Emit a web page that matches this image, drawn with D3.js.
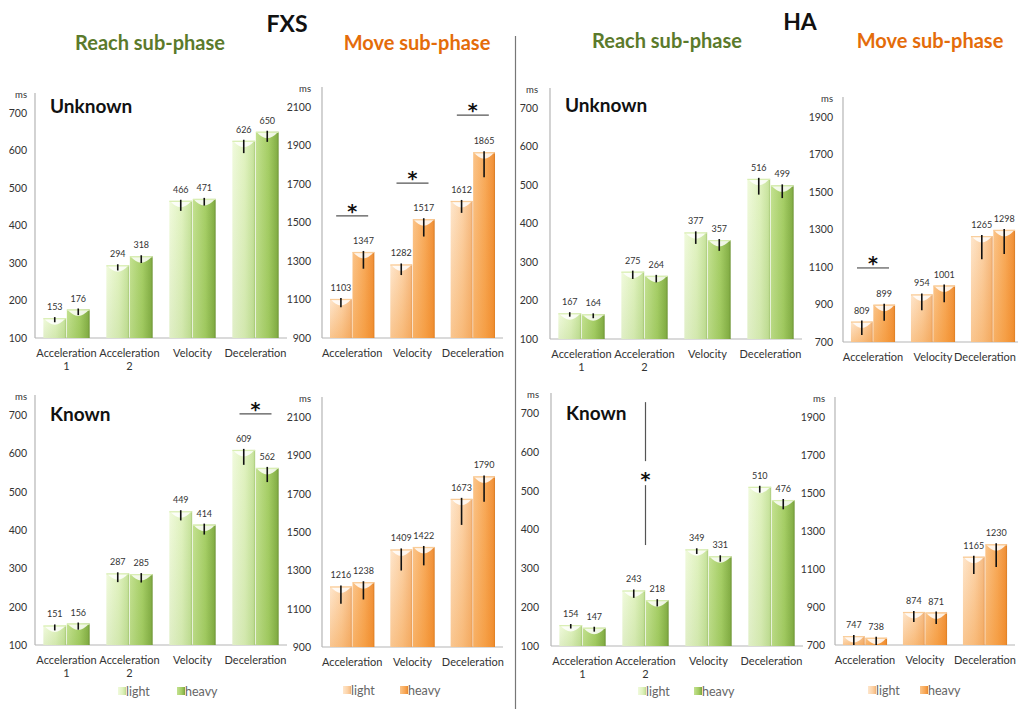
<!DOCTYPE html>
<html><head><meta charset="utf-8">
<script src="https://cdn.jsdelivr.net/npm/d3@7"></script>
<style>
html,body{margin:0;padding:0;background:#fff;}
svg{display:block;font-family:Lato,"Open Sans",sans-serif;}
</style></head>
<body>
<svg id="chart" width="1018" height="709"></svg>
<script>
// ---------------- DATA ----------------
const reachCategories = [["Acceleration","1"],["Acceleration","2"],["Velocity"],["Deceleration"]];
const moveCategories = [["Acceleration"],["Velocity"],["Deceleration"]];
const seriesNames = ["light","heavy"];

const reachTicks = [100,200,300,400,500,600,700];
const moveTicksFXS = [900,1100,1300,1500,1700,1900,2100];
const moveTicksHA = [700,900,1100,1300,1500,1700,1900];

// FXS – Reach – Unknown
const fxsReachUnknownLight = [153,294,466,626];
const fxsReachUnknownHeavy = [176,318,471,650];
const fxsReachUnknownLightErr = [11,14,27,33];
const fxsReachUnknownHeavyErr = [15,18,18,27];
// FXS – Move – Unknown
const fxsMoveUnknownLight = [1103,1282,1612];
const fxsMoveUnknownHeavy = [1347,1517,1865];
const fxsMoveUnknownLightErr = [43,55,62];
const fxsMoveUnknownHeavyErr = [87,90,130];
// HA – Reach – Unknown
const haReachUnknownLight = [167,275,377,516];
const haReachUnknownHeavy = [164,264,357,499];
const haReachUnknownLightErr = [9,19,30,41];
const haReachUnknownHeavyErr = [10,17,28,33];
// HA – Move – Unknown
const haMoveUnknownLight = [809,954,1265];
const haMoveUnknownHeavy = [899,1001,1298];
const haMoveUnknownLightErr = [71,84,124];
const haMoveUnknownHeavyErr = [85,89,128];
// FXS – Reach – Known
const fxsReachKnownLight = [151,287,449,609];
const fxsReachKnownHeavy = [156,285,414,562];
const fxsReachKnownLightErr = [13,23,24,39];
const fxsReachKnownHeavyErr = [16,22,26,37];
// FXS – Move – Known
const fxsMoveKnownLight = [1216,1409,1673];
const fxsMoveKnownHeavy = [1238,1422,1790];
const fxsMoveKnownLightErr = [90,110,136];
const fxsMoveKnownHeavyErr = [90,96,132];
// HA – Reach – Known
const haReachKnownLight = [154,243,349,510];
const haReachKnownHeavy = [147,218,331,476];
const haReachKnownLightErr = [9,19,12,15];
const haReachKnownHeavyErr = [10,16,14,24];
// HA – Move – Known
const haMoveKnownLight = [747,874,1165];
const haMoveKnownHeavy = [738,871,1230];
const haMoveKnownLightErr = [47,53,91];
const haMoveKnownHeavyErr = [39,60,119];

// significance marks (category index, value level in ms)
const fxsMoveUnknownSig = [[0,1534],[1,1705],[2,2058]];
const haMoveUnknownSig = [[0,1095]];
const fxsReachKnownSig = [[3,703]];
// vertical mark: category index, top, star, bottom (ms)
const haReachKnownSigVertical = [[1,728,540,360]];

// ---------------- DRAW ----------------
const svg = d3.select("#chart");
const defs = svg.append("defs");

function hGrad(id, stops){
  const g = defs.append("linearGradient").attr("id",id).attr("x1","0").attr("x2","1").attr("y1","0").attr("y2","0");
  stops.forEach(s=>g.append("stop").attr("offset",s[0]).attr("stop-color",s[1]));
}
function vGrad(id, stops){
  const g = defs.append("linearGradient").attr("id",id).attr("x1","0").attr("x2","0").attr("y1","0").attr("y2","1");
  stops.forEach(s=>g.append("stop").attr("offset",s[0]).attr("stop-color",s[1]).attr("stop-opacity",s[2]===undefined?1:s[2]));
}
hGrad("gLight",[[0,"#f0fadc"],[0.55,"#e0f2bf"],[0.92,"#c9e49f"],[1,"#a9c97a"]]);
hGrad("gHeavy",[[0,"#c3e190"],[0.55,"#a6ce66"],[0.92,"#86b048"],[1,"#6d9335"]]);
hGrad("oLight",[[0,"#fee6cc"],[0.55,"#fcd3a8"],[0.92,"#f6bd86"],[1,"#e3a066"]]);
hGrad("oHeavy",[[0,"#fbc489"],[0.55,"#f8aa5a"],[0.92,"#f1923a"],[1,"#d57a24"]]);
vGrad("oShade",[[0,"#f08a20",0],[1,"#f08a20",0.35]]);
vGrad("gShade",[[0,"#6a9a2a",0],[1,"#6a9a2a",0.12]]);

const palettes = {
  green: {light:"url(#gLight)", heavy:"url(#gHeavy)", shade:"url(#gShade)"},
  orange:{light:"url(#oLight)", heavy:"url(#oHeavy)", shade:"url(#oShade)"}
};

function drawPanel(o){
  const g = svg.append("g");
  const y = d3.scaleLinear().domain([o.ticks[0], o.ticks[o.ticks.length-1]]).range([o.yBase,o.yTop]);
  const x = d3.scaleBand().domain(d3.range(o.cats.length)).range([o.x0,o.x1]).padding(0);
  const pairW = x.bandwidth()*0.735;
  const xs = d3.scaleBand().domain(seriesNames).range([0,pairW]).paddingInner(0.03);
  const pal = palettes[o.palette];

  // y axis
  const yAxis = d3.axisLeft(y).tickValues(o.ticks).tickFormat(d3.format("d")).tickSize(0).tickPadding(o.tickPad||9);
  const ga = g.append("g").attr("transform",`translate(${o.x0},0)`).call(yAxis);
  ga.select(".domain").remove();
  ga.selectAll("text").attr("font-size",10.5).attr("fill","#333").attr("font-family","Lato, sans-serif");
  g.append("line").attr("x1",o.x0).attr("x2",o.x0).attr("y1",o.yTop-20).attr("y2",o.yBase)
    .attr("stroke","#b5b5b5").attr("stroke-width",1.2);
  g.append("text").attr("x",o.x0-(o.tickPad||9)).attr("y",o.yTop-15).attr("text-anchor","end")
    .attr("font-size",9.5).attr("fill","#333").text("ms");
  // x axis line
  g.append("line").attr("x1",o.x0).attr("x2",o.x1).attr("y1",o.yBase).attr("y2",o.yBase)
    .attr("stroke","#b5b5b5").attr("stroke-width",1.2);

  const data = [];
  o.cats.forEach((c,i)=>{
    data.push({i,s:"light",v:o.light[i],e:o.lightErr[i]});
    data.push({i,s:"heavy",v:o.heavy[i],e:o.heavyErr[i]});
  });
  const bx = d=> x(d.i) + (x.bandwidth()-pairW)/2 + xs(d.s);
  const bars = g.selectAll("g.bar").data(data).join("g").attr("class","bar");
  bars.append("rect").attr("x",bx).attr("y",d=>y(d.v)).attr("width",xs.bandwidth())
    .attr("height",d=>o.yBase-y(d.v)).attr("fill",d=>pal[d.s]);
  bars.append("rect").attr("x",bx).attr("y",d=>y(d.v)).attr("width",xs.bandwidth())
    .attr("height",d=>o.yBase-y(d.v)).attr("fill",pal.shade);
  // top cap highlight
  bars.append("path").attr("d",d=>{
      const x0=bx(d), w=xs.bandwidth(), t=y(d.v);
      return `M${x0+1},${t+0.5} L${x0+w-1},${t+0.5} Q${x0+w*0.75},${t+6} ${x0+w/2},${t+6.5} Q${x0+w*0.25},${t+6} ${x0+1},${t+0.5}Z`;
    }).attr("fill","#ffffff").attr("opacity",0.85);
  bars.append("rect").attr("x",bx).attr("y",d=>y(d.v)).attr("width",xs.bandwidth()).attr("height",1.2)
    .attr("fill", o.palette==="green" ? "#d9eeb3" : "#f9cc98");
  // error bars (downward)
  bars.append("line").attr("x1",d=>bx(d)+xs.bandwidth()/2).attr("x2",d=>bx(d)+xs.bandwidth()/2)
    .attr("y1",d=>y(d.v)-1).attr("y2",d=>Math.min(o.yBase,y(d.v-d.e)))
    .attr("stroke","#111").attr("stroke-width",1.6);
  // value labels
  bars.append("text").attr("x",d=>bx(d)+xs.bandwidth()/2).attr("y",d=>y(d.v)-8)
    .attr("text-anchor","middle").attr("font-size",9).attr("fill","#333").text(d=>d.v);

  // category labels
  o.cats.forEach((c,i)=>{
    c.forEach((line,k)=>{
      const t = g.append("text").attr("x",x(i)+x.bandwidth()/2).attr("y",o.yBase+19+k*13)
        .attr("text-anchor","middle").attr("font-size",11).attr("fill","#333").text(line);
      const bb = t.node().getBBox();
      if(bb.x+bb.width > 1016){ t.attr("x", x(i)+x.bandwidth()/2 - (bb.x+bb.width-1016)); }
    });
  });

  if(o.title){
    g.append("text").attr("x",o.x0+15).attr("y",o.yTop+o.titleDy).attr("font-size",19)
      .attr("font-weight","bold").attr("fill","#111").text(o.title);
  }
  // significance horizontal
  (o.sig||[]).forEach(([ci,lv])=>{
    const cx = x(ci)+x.bandwidth()/2;
    g.append("line").attr("x1",cx-16).attr("x2",cx+16).attr("y1",y(lv)).attr("y2",y(lv))
      .attr("stroke","#555").attr("stroke-width",1.2);
    g.append("text").attr("x",cx).attr("y",y(lv)+2).attr("text-anchor","middle")
      .attr("font-family","DejaVu Sans, sans-serif")
      .attr("font-size",19).attr("font-weight","bold").attr("fill","#111").text("*");
  });
  (o.sigV||[]).forEach(([ci,top,star,bot])=>{
    const cx = x(ci)+x.bandwidth()/2;
    const ys = y(star);
    g.append("line").attr("x1",cx).attr("x2",cx).attr("y1",y(top)).attr("y2",ys-14).attr("stroke","#555").attr("stroke-width",1.2);
    g.append("line").attr("x1",cx).attr("x2",cx).attr("y1",ys+10).attr("y2",y(bot)).attr("stroke","#555").attr("stroke-width",1.2);
    g.append("text").attr("x",cx).attr("y",ys+11).attr("text-anchor","middle")
      .attr("font-family","DejaVu Sans, sans-serif")
      .attr("font-size",19).attr("font-weight","bold").attr("fill","#111").text("*");
  });
  // legend
  if(o.legend){
    const [lx,hx,ly] = o.legend;
    [[lx,"light"],[hx,"heavy"]].forEach(([xx,s])=>{
      g.append("rect").attr("x",xx).attr("y",ly-5).attr("width",8).attr("height",8).attr("fill",pal[s]);
      g.append("text").attr("x",xx+8).attr("y",ly+4).attr("font-size",12.5).attr("fill","#666").text(s);
    });
  }
}

drawPanel({x0:35,x1:287,yBase:338,yTop:113,ticks:reachTicks,cats:reachCategories,palette:"green",
  light:fxsReachUnknownLight,heavy:fxsReachUnknownHeavy,lightErr:fxsReachUnknownLightErr,heavyErr:fxsReachUnknownHeavyErr,
  title:"Unknown",titleDy:0,tickPad:8});
drawPanel({x0:322,x1:503,yBase:338,yTop:107,ticks:moveTicksFXS,cats:moveCategories,palette:"orange",
  light:fxsMoveUnknownLight,heavy:fxsMoveUnknownHeavy,lightErr:fxsMoveUnknownLightErr,heavyErr:fxsMoveUnknownHeavyErr,
  sig:fxsMoveUnknownSig,tickPad:11});
drawPanel({x0:550,x1:802,yBase:339,yTop:108,ticks:reachTicks,cats:reachCategories,palette:"green",
  light:haReachUnknownLight,heavy:haReachUnknownHeavy,lightErr:haReachUnknownLightErr,heavyErr:haReachUnknownHeavyErr,
  title:"Unknown",titleDy:4,tickPad:12});
drawPanel({x0:843,x1:1023,yBase:342,yTop:117,ticks:moveTicksHA,cats:moveCategories,palette:"orange",
  light:haMoveUnknownLight,heavy:haMoveUnknownHeavy,lightErr:haMoveUnknownLightErr,heavyErr:haMoveUnknownHeavyErr,
  sig:haMoveUnknownSig,tickPad:10});

drawPanel({x0:35,x1:287,yBase:645,yTop:415,ticks:reachTicks,cats:reachCategories,palette:"green",
  light:fxsReachKnownLight,heavy:fxsReachKnownHeavy,lightErr:fxsReachKnownLightErr,heavyErr:fxsReachKnownHeavyErr,
  title:"Known",titleDy:6,sig:fxsReachKnownSig,legend:[118,177,692],tickPad:8});
drawPanel({x0:322,x1:503,yBase:647,yTop:417,ticks:moveTicksFXS,cats:moveCategories,palette:"orange",
  light:fxsMoveKnownLight,heavy:fxsMoveKnownHeavy,lightErr:fxsMoveKnownLightErr,heavyErr:fxsMoveKnownHeavyErr,
  legend:[343,400,691],tickPad:11});
drawPanel({x0:551,x1:803,yBase:646,yTop:413,ticks:reachTicks,cats:reachCategories,palette:"green",
  light:haReachKnownLight,heavy:haReachKnownHeavy,lightErr:haReachKnownLightErr,heavyErr:haReachKnownHeavyErr,
  title:"Known",titleDy:7,sigV:haReachKnownSigVertical,legend:[638,694,692],tickPad:12});
drawPanel({x0:835,x1:1015,yBase:645,yTop:417,ticks:moveTicksHA,cats:moveCategories,palette:"orange",
  light:haMoveKnownLight,heavy:haMoveKnownHeavy,lightErr:haMoveKnownLightErr,heavyErr:haMoveKnownHeavyErr,
  legend:[868,920,691],tickPad:10});

// headers
const hdr = svg.append("g").attr("font-weight","bold");
hdr.append("text").attr("x",287).attr("y",32).attr("text-anchor","middle").attr("font-size",23).attr("fill","#111").text("FXS");
hdr.append("text").attr("x",800).attr("y",30).attr("text-anchor","middle").attr("font-size",23).attr("fill","#111").text("HA");
hdr.append("text").attr("x",150).attr("y",50).attr("text-anchor","middle").attr("font-size",20).attr("fill","#5b7a2b").text("Reach sub-phase");
hdr.append("text").attr("x",417).attr("y",50).attr("text-anchor","middle").attr("font-size",20).attr("fill","#e46c0a").text("Move sub-phase");
hdr.append("text").attr("x",667).attr("y",48).attr("text-anchor","middle").attr("font-size",20).attr("fill","#5b7a2b").text("Reach sub-phase");
hdr.append("text").attr("x",930).attr("y",48).attr("text-anchor","middle").attr("font-size",20).attr("fill","#e46c0a").text("Move sub-phase");
// divider
svg.append("line").attr("x1",515.5).attr("x2",515.5).attr("y1",36).attr("y2",709).attr("stroke","#777").attr("stroke-width",1.2);
</script>
</body></html>
